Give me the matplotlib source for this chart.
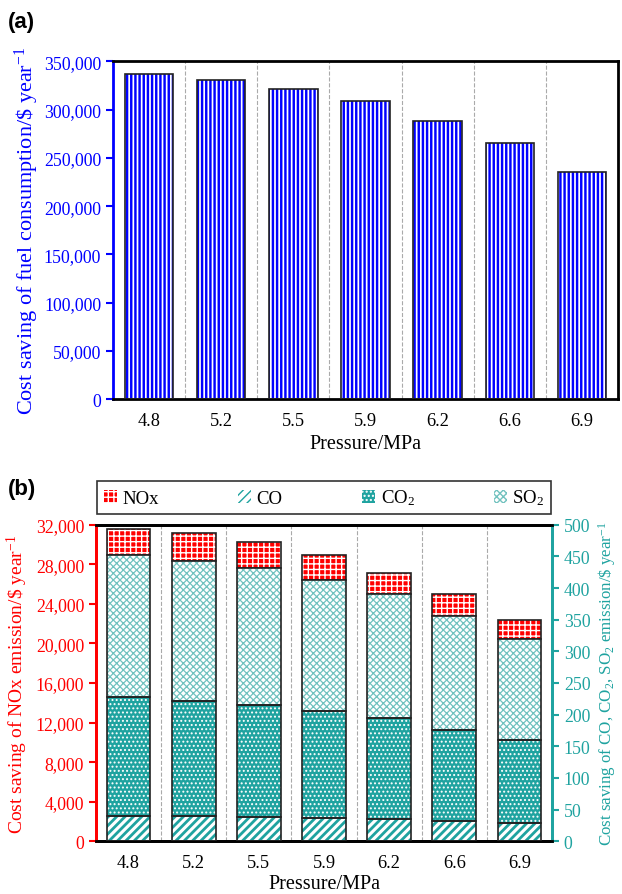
"""
Kostnadsbesparelse for brensel (a) og utslipp (b) mot trykk
"""

import matplotlib
matplotlib.use('Agg')
import matplotlib.pyplot as plt
from matplotlib.ticker import FuncFormatter

plt.rcParams['font.family'] = ['Liberation Serif', 'DejaVu Serif']
plt.rcParams['mathtext.fontset'] = 'custom'
plt.rcParams['mathtext.rm'] = 'Liberation Serif'
plt.rcParams['mathtext.it'] = 'Liberation Serif:italic'

# data lest av figuren
pressure = ['4.8', '5.2', '5.5', '5.9', '6.2', '6.6', '6.9']
fuel_saving = [336500, 331000, 321300, 308600, 288500, 265100, 235700]

# $/year, hoyre akse
co = [40.4, 39.5, 38.9, 36.8, 34.7, 31.6, 28.4]
co2 = [187.0, 181.6, 175.9, 169.5, 159.6, 144.7, 131.1]
so2 = [224.3, 221.6, 216.4, 205.9, 195.8, 180.0, 159.5]
# $/year, venstre akse
nox = [2660, 2790, 2660, 2525, 2190, 2190, 1920]

blue = '#0000ff'
red = '#ff0000'
teal = '#1fa3a0'
light_teal = '#72c2bf'
fs = 12.8

xs = list(range(len(pressure)))


def hatched_bar(ax, x, h, bottom, face, hcolor, hatch, hlw, label=None):
    with plt.rc_context({'hatch.linewidth': hlw}):
        bars = ax.bar(x, h, 0.67, bottom=bottom, color=face, edgecolor=hcolor,
                      hatch=hatch, linewidth=0, label=label, zorder=2)
    for b in bars:
        if hasattr(b, 'set_hatch_linewidth'):
            b.set_hatch_linewidth(hlw)
    ax.bar(x, h, 0.67, bottom=bottom, fill=False, edgecolor='#222222',
           linewidth=1.2, zorder=3)
    return bars


def style_spines(ax, left_color, right_color='black'):
    for s in ['top', 'bottom']:
        ax.spines[s].set_linewidth(2)
        ax.spines[s].set_color('black')
    ax.spines['left'].set_linewidth(2)
    ax.spines['left'].set_color(left_color)
    ax.spines['right'].set_linewidth(2)
    ax.spines['right'].set_color(right_color)


comma = FuncFormatter(lambda v, p: '{:,.0f}'.format(v))

fig = plt.figure(figsize=(6.22, 8.95), dpi=100)

# ---- (a) ----
ax = fig.add_axes([113/622, 1 - 400.3/895, 505/622, 338/895])
hatched_bar(ax, xs, fuel_saving, 0, 'white', blue, '||||', 1.75)
for i in range(len(xs) - 1):
    ax.axvline(i + 0.5, color='#aaaaaa', ls='--', lw=0.8, zorder=1)
ax.set_xlim(-0.5, len(xs) - 0.5)
ax.set_ylim(0, 350000)
ax.set_yticks(range(0, 350001, 50000))
ax.yaxis.set_major_formatter(comma)
ax.set_xticks(xs)
ax.set_xticklabels(pressure)
ax.tick_params(axis='x', length=0, pad=9, labelsize=fs + 0.4)
ax.tick_params(axis='y', colors=blue, labelcolor=blue, length=5, width=1.5,
               labelsize=fs, direction='out')
style_spines(ax, blue)
ax.set_xlabel('Pressure/MPa', fontsize=14.5, labelpad=4)
ax.set_ylabel(r'Cost saving of fuel consumption/\$ year$^{\mathrm{-1}}$',
              color=blue, fontsize=16, labelpad=2)

# ---- (b) ----
axb = fig.add_axes([96/622, 1 - 842.3/895, 456/622, 316.6/895])
axr = axb.twinx()
left_max = 32000
right_max = 500

h_co = hatched_bar(axr, xs, co, 0, 'white', teal, '////', 2.0, 'CO')
bot = co[:]
h_co2 = hatched_bar(axr, xs, co2, bot, teal, 'white', '....', 0.9, 'CO$_2$')
bot = [bot[i] + co2[i] for i in range(len(xs))]
h_so2 = hatched_bar(axr, xs, so2, bot, 'white', light_teal, 'xxxxx', 0.9, 'SO$_2$')
bot = [bot[i] + so2[i] for i in range(len(xs))]
# NOx staples paa toppen, i venstre akses enheter
nox_bot = [b * left_max / right_max for b in bot]
h_nox = hatched_bar(axb, xs, nox, nox_bot, red, 'white', '+++', 1.0, 'NOx')

for i in range(len(xs) - 1):
    axb.axvline(i + 0.5, color='#aaaaaa', ls='--', lw=0.8, zorder=1)

axb.set_xlim(-0.5, len(xs) - 0.5)
axb.set_ylim(0, left_max)
axb.set_yticks(range(0, left_max + 1, 4000))
axb.yaxis.set_major_formatter(comma)
axr.set_ylim(0, right_max)
axr.set_yticks(range(0, right_max + 1, 50))
axb.set_xticks(xs)
axb.set_xticklabels(pressure)
axb.tick_params(axis='x', length=0, pad=9, labelsize=fs + 0.4)
axb.tick_params(axis='y', colors=red, labelcolor=red, length=5, width=1.5,
                labelsize=fs)
axr.tick_params(axis='y', colors=teal, labelcolor=teal, length=5, width=1.5,
                labelsize=fs)
style_spines(axb, red, teal)
style_spines(axr, red, teal)
axb.set_xlabel('Pressure/MPa', fontsize=14.5, labelpad=2)
axb.set_ylabel(r'Cost saving of NOx emission/\$ year$^{\mathrm{-1}}$',
               color=red, fontsize=14, labelpad=4)
axr.set_ylabel(r'Cost saving of CO, CO$_2$, SO$_2$ emission/\$ year$^{\mathrm{-1}}$',
               color=teal, fontsize=12.2, labelpad=4)

leg = fig.legend([h_nox, h_co, h_co2, h_so2], ['NOx', 'CO', 'CO$_2$', 'SO$_2$'],
                 loc='lower left', bbox_to_anchor=(97/622, 1 - 515/895, 454/622, 30/895),
                 mode='expand', ncol=4, fontsize=13.5, frameon=True, fancybox=False,
                 handlelength=0.7, handleheight=0.7, handletextpad=0.3,
                 borderaxespad=0, borderpad=0.35)
leg.get_frame().set_edgecolor('black')
leg.get_frame().set_linewidth(1.2)

fig.text(0.013, 0.975, '(a)', fontsize=16, fontweight='bold',
         family='Liberation Sans', va='center')
fig.text(0.013, 1 - 490/895, '(b)', fontsize=16, fontweight='bold',
         family='Liberation Sans', va='center')

fig.savefig('out.png', dpi=100)
